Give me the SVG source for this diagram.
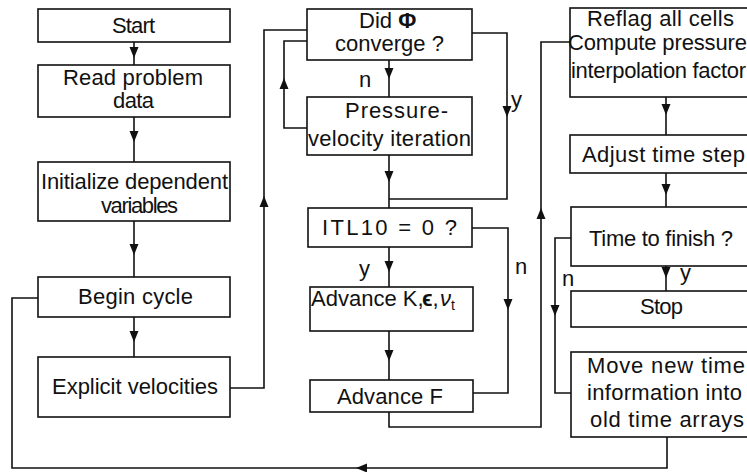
<svg xmlns="http://www.w3.org/2000/svg" xmlns:xlink="http://www.w3.org/1999/xlink" width="747" height="472" viewBox="0 0 747 472">
<style>
  .box { fill: #fff; stroke: #111; stroke-width: 1.6; }
  .ln { fill: none; stroke: #111; stroke-width: 1.6; }
  .ah { fill: #111; stroke: none; }
  text { font-family: "Liberation Sans", Arial, sans-serif; font-size: 22px; fill: #111; }
</style>
<defs>
  <path id="ah" class="ah" d="M-4.5,-11 L4.5,-11 L0,0 Z"/>
</defs>
<rect width="747" height="472" fill="#fff"/>

<g id="connectors">
  <line class="ln" x1="134" y1="42" x2="134" y2="65"/>
  <line class="ln" x1="134" y1="117" x2="134" y2="162"/>
  <line class="ln" x1="134" y1="221" x2="134" y2="277"/>
  <line class="ln" x1="134" y1="317" x2="134" y2="357"/>
  <polyline class="ln" points="230,388 264,388 264,30 307,30"/>
  <polyline class="ln" points="38,298 12,298 12,468 667,468 667,437"/>
  <line class="ln" x1="389" y1="60" x2="389" y2="97"/>
  <polyline class="ln" points="307,128 284,128 284,41 307,41"/>
  <polyline class="ln" points="472,33 507,33 507,199 389,199"/>
  <line class="ln" x1="389" y1="155" x2="389" y2="208"/>
  <line class="ln" x1="389" y1="247" x2="389" y2="287"/>
  <polyline class="ln" points="472,228 508,228 508,393 473,393"/>
  <line class="ln" x1="389" y1="331" x2="389" y2="380"/>
  <polyline class="ln" points="389,412 389,427 541,427 541,42 570,42"/>
  <line class="ln" x1="666" y1="97" x2="666" y2="135"/>
  <line class="ln" x1="666" y1="173" x2="666" y2="207"/>
  <line class="ln" x1="666" y1="266" x2="666" y2="291"/>
  <polyline class="ln" points="571,238 555,238 555,393 571,393"/>

  <use xlink:href="#ah" transform="translate(134,58)"/>
  <use xlink:href="#ah" transform="translate(134,142)"/>
  <use xlink:href="#ah" transform="translate(134,255)"/>
  <use xlink:href="#ah" transform="translate(134,342)"/>
  <use xlink:href="#ah" transform="translate(264,196) rotate(180)"/>
  <use xlink:href="#ah" transform="translate(356,468) rotate(90)"/>
  <use xlink:href="#ah" transform="translate(389,79)"/>
  <use xlink:href="#ah" transform="translate(284,78) rotate(180)"/>
  <use xlink:href="#ah" transform="translate(507,117)"/>
  <use xlink:href="#ah" transform="translate(389,182)"/>
  <use xlink:href="#ah" transform="translate(389,272)"/>
  <use xlink:href="#ah" transform="translate(508,310)"/>
  <use xlink:href="#ah" transform="translate(389,361)"/>
  <use xlink:href="#ah" transform="translate(541,208) rotate(180)"/>
  <use xlink:href="#ah" transform="translate(666,115)"/>
  <use xlink:href="#ah" transform="translate(666,195)"/>
  <use xlink:href="#ah" transform="translate(666,278)"/>
  <use xlink:href="#ah" transform="translate(555,316)"/>

  <text x="359" y="87">n</text>
  <text x="511" y="107">y</text>
  <text x="359" y="276">y</text>
  <text x="515" y="274">n</text>
  <text x="680" y="280">y</text>
  <text x="562" y="286">n</text>
</g>

<g id="start">
  <rect class="box" x="38" y="9" width="192" height="33"/>
  <text x="112" y="33" textLength="43" lengthAdjust="spacing">Start</text>
</g>
<g id="read">
  <rect class="box" x="38" y="65" width="192" height="52"/>
  <text x="63" y="85" textLength="140" lengthAdjust="spacing">Read problem</text>
  <text x="113" y="108" textLength="41" lengthAdjust="spacing">data</text>
</g>
<g id="init">
  <rect class="box" x="38" y="162" width="192" height="59"/>
  <text x="41" y="189" textLength="187" lengthAdjust="spacing">Initialize dependent</text>
  <text x="101" y="213" textLength="77" lengthAdjust="spacing">variables</text>
</g>
<g id="begin">
  <rect class="box" x="38" y="277" width="192" height="40"/>
  <text x="78" y="304" textLength="115" lengthAdjust="spacing">Begin cycle</text>
</g>
<g id="explicit">
  <rect class="box" x="38" y="357" width="192" height="60"/>
  <text x="52" y="394" textLength="166" lengthAdjust="spacing">Explicit velocities</text>
</g>

<g id="converge">
  <rect class="box" x="307" y="9" width="165" height="51"/>
  <text x="359" y="28">Did <tspan font-weight="bold">Φ</tspan></text>
  <text x="335" y="51" textLength="109" lengthAdjust="spacing">converge ?</text>
</g>
<g id="pressure">
  <rect class="box" x="307" y="97" width="165" height="58"/>
  <text x="345" y="118" textLength="103" lengthAdjust="spacing">Pressure-</text>
  <text x="308" y="146" textLength="163" lengthAdjust="spacing">velocity iteration</text>
</g>
<g id="itl">
  <rect class="box" x="308" y="208" width="164" height="39"/>
  <text x="322" y="235" textLength="135" lengthAdjust="spacing">ITL10 = 0 ?</text>
</g>
<g id="advk">
  <rect class="box" x="310" y="287" width="163" height="44"/>
  <text x="311" y="306"><tspan letter-spacing="0">Advance K,</tspan><tspan x="422" font-weight="bold">ϵ</tspan><tspan>,</tspan><tspan x="440" font-style="italic">ν</tspan><tspan font-size="14" dy="4">t</tspan></text>
</g>
<g id="advf">
  <rect class="box" x="310" y="380" width="163" height="32"/>
  <text x="337" y="404" textLength="106" lengthAdjust="spacing">Advance F</text>
</g>

<g id="reflag">
  <rect class="box" x="570" y="8" width="190" height="89"/>
  <text x="587" y="26" textLength="147" lengthAdjust="spacing">Reflag all cells</text>
  <text x="568" y="50" textLength="179" lengthAdjust="spacing">Compute pressure</text>
  <text x="571" y="78" textLength="175" lengthAdjust="spacing">interpolation factor</text>
</g>
<g id="adjust">
  <rect class="box" x="570" y="135" width="190" height="38"/>
  <text x="582" y="162" textLength="163" lengthAdjust="spacing">Adjust time step</text>
</g>
<g id="finish">
  <rect class="box" x="571" y="207" width="190" height="59"/>
  <text x="589" y="246" textLength="144" lengthAdjust="spacing">Time to finish ?</text>
</g>
<g id="stop">
  <rect class="box" x="571" y="291" width="190" height="36"/>
  <text x="640" y="314" textLength="43" lengthAdjust="spacing">Stop</text>
</g>
<g id="move">
  <rect class="box" x="571" y="352" width="190" height="85"/>
  <text x="587" y="373" textLength="158" lengthAdjust="spacing">Move new time</text>
  <text x="587" y="400" textLength="155" lengthAdjust="spacing">information into</text>
  <text x="590" y="427" textLength="154" lengthAdjust="spacing">old time arrays</text>
</g>
</svg>
